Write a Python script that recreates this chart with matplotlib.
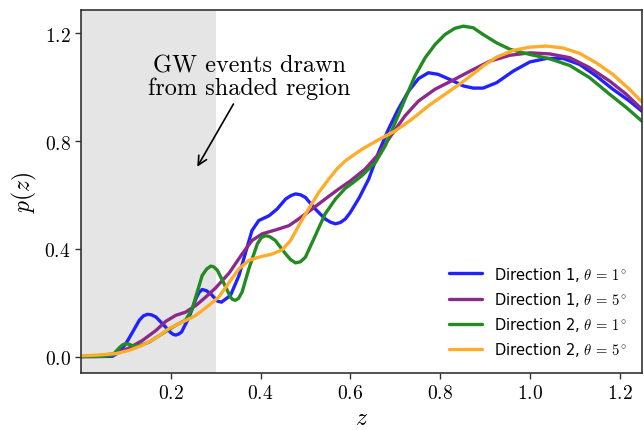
import matplotlib
matplotlib.use("Agg")
import matplotlib.pyplot as plt
from matplotlib.ticker import FormatStrFormatter

plt.rcParams['mathtext.fontset'] = 'cm'

# Direction 1, theta = 1 deg
z_d1t1 = [0.0, 0.033, 0.07, 0.085, 0.1, 0.115, 0.13, 0.139, 0.148, 0.157, 0.167, 0.185,
          0.2, 0.206, 0.211, 0.217, 0.224, 0.241, 0.256, 0.263, 0.27, 0.279, 0.289, 0.304, 0.313, 0.333,
          0.352, 0.367, 0.381, 0.396, 0.419, 0.437, 0.456, 0.468, 0.478, 0.489, 0.5, 0.522,
          0.544, 0.556, 0.567, 0.578, 0.589, 0.6, 0.62, 0.641, 0.663, 0.685, 0.707, 0.73,
          0.752, 0.774, 0.796, 0.826, 0.852, 0.874, 0.896, 0.926, 0.963, 1.0,
          1.037, 1.074, 1.111, 1.148, 1.185, 1.222, 1.25]
p_d1t1 = [0.0, 0.0, 0.001, 0.017, 0.048, 0.091, 0.135, 0.151, 0.157, 0.155, 0.147, 0.116,
          0.089, 0.082, 0.08, 0.083, 0.091, 0.147, 0.215, 0.238, 0.249, 0.245, 0.233, 0.206, 0.202, 0.227,
          0.301, 0.388, 0.468, 0.505, 0.523, 0.548, 0.585, 0.598, 0.604, 0.601, 0.591, 0.548,
          0.511, 0.499, 0.493, 0.498, 0.511, 0.535, 0.59, 0.659, 0.758, 0.844, 0.919, 0.986,
          1.032, 1.054, 1.048, 1.026, 1.005, 0.997, 0.997, 1.017, 1.06, 1.094,
          1.107, 1.107, 1.085, 1.042, 0.993, 0.949, 0.911]

# Direction 1, theta = 5 deg
z_d1t5 = [0.0, 0.033, 0.078, 0.107, 0.137, 0.167, 0.189, 0.211, 0.233, 0.256,
          0.278, 0.3, 0.33, 0.359, 0.381, 0.404, 0.433, 0.463, 0.485, 0.515,
          0.544, 0.574, 0.6, 0.633, 0.663, 0.693, 0.722, 0.752, 0.789, 0.833,
          0.867, 0.911, 0.956, 1.0, 1.044, 1.089, 1.133, 1.178, 1.215, 1.25]
p_d1t5 = [0.0, 0.002, 0.011, 0.032, 0.06, 0.097, 0.131, 0.153, 0.165, 0.19,
          0.221, 0.255, 0.31, 0.381, 0.431, 0.456, 0.47, 0.486, 0.511, 0.548,
          0.585, 0.622, 0.652, 0.696, 0.752, 0.826, 0.894, 0.949, 0.993, 1.03,
          1.06, 1.097, 1.119, 1.128, 1.124, 1.11, 1.073, 1.023, 0.974, 0.918]

# Direction 2, theta = 1 deg
z_d2t1 = [0.0, 0.05, 0.07, 0.085, 0.093, 0.1, 0.107, 0.115, 0.13, 0.152, 0.181, 0.211,
          0.233, 0.248, 0.259, 0.27, 0.28, 0.289, 0.296, 0.304, 0.319, 0.333, 0.338, 0.344, 0.351, 0.359,
          0.374, 0.393, 0.402, 0.411, 0.421, 0.433, 0.456, 0.467, 0.478, 0.489, 0.5, 0.522, 0.544, 0.567,
          0.589, 0.607, 0.626, 0.656, 0.678, 0.7, 0.722, 0.744, 0.767, 0.789,
          0.811, 0.833, 0.852, 0.874, 0.896, 0.926, 0.956, 1.0, 1.044, 1.089,
          1.133, 1.178, 1.215, 1.25]
p_d2t1 = [0.0, 0.001, 0.005, 0.032, 0.044, 0.048, 0.046, 0.04, 0.04, 0.054, 0.085, 0.116,
          0.135, 0.178, 0.24, 0.301, 0.325, 0.336, 0.333, 0.32, 0.27, 0.221, 0.212, 0.209, 0.216, 0.24,
          0.326, 0.419, 0.442, 0.449, 0.445, 0.431, 0.381, 0.36, 0.348, 0.352, 0.369, 0.449, 0.53, 0.585,
          0.625, 0.647, 0.672, 0.721, 0.783, 0.869, 0.956, 1.042, 1.11, 1.159,
          1.196, 1.219, 1.227, 1.221, 1.196, 1.165, 1.141, 1.122, 1.106, 1.081,
          1.036, 0.974, 0.925, 0.874]

# Direction 2, theta = 5 deg
z_d2t5 = [0.0, 0.033, 0.078, 0.107, 0.137, 0.167, 0.196, 0.226, 0.256, 0.285,
          0.307, 0.33, 0.352, 0.374, 0.396, 0.426, 0.448, 0.467, 0.485, 0.507,
          0.53, 0.552, 0.57, 0.589, 0.626, 0.663, 0.7, 0.737, 0.774, 0.811,
          0.848, 0.874, 0.896, 0.926, 0.963, 1.0, 1.037, 1.074, 1.111, 1.148,
          1.185, 1.222, 1.25]
p_d2t5 = [0.003, 0.005, 0.011, 0.023, 0.042, 0.069, 0.104, 0.128, 0.153, 0.19,
          0.221, 0.275, 0.326, 0.357, 0.369, 0.381, 0.396, 0.431, 0.486, 0.548,
          0.61, 0.659, 0.696, 0.727, 0.77, 0.805, 0.838, 0.881, 0.931, 0.974,
          1.017, 1.05, 1.079, 1.112, 1.137, 1.149, 1.153, 1.146, 1.126, 1.091,
          1.048, 0.993, 0.945]

labels = [r'Direction 1, $\theta\,=\,1^\circ$', r'Direction 1, $\theta\,=\,5^\circ$',
          r'Direction 2, $\theta\,=\,1^\circ$', r'Direction 2, $\theta\,=\,5^\circ$']
zs = [z_d1t1, z_d1t5, z_d2t1, z_d2t5]
ps = [p_d1t1, p_d1t5, p_d2t1, p_d2t5]
colors = ['#2222ff', '#8b2a8b', '#228b22', '#ffac2a']

xticks = [0.2, 0.4, 0.6, 0.8, 1.0, 1.2]
yticks = [0.0, 0.4, 0.8, 1.2]

fig = plt.figure(figsize=(6.44, 4.31), dpi=100)
ax = fig.add_axes([81/644, 1-374/431, (642-81)/644, (374-11)/431])

ax.axvspan(0.0, 0.3, color='#e5e5e5', zorder=0, lw=0)
for zz, pp, c, l in zip(zs, ps, colors, labels):
    ax.plot(zz, pp, color=c, lw=2.4, label=l, solid_joinstyle='round',
            solid_capstyle='round')

ax.set_xlim(0.0, 1.25)
ax.set_ylim(-0.061, 1.287)
ax.set_xticks(xticks)
ax.set_yticks(yticks)
ax.xaxis.set_major_formatter(FormatStrFormatter('$%.1f$'))
ax.yaxis.set_major_formatter(FormatStrFormatter('$%.1f$'))
ax.tick_params(labelsize=14, length=4, width=1, color='#333333')
for sp in ax.spines.values():
    sp.set_color('#333333')
    sp.set_linewidth(1.2)

ax.set_xlabel('$z$', fontsize=17, labelpad=2)
ax.set_ylabel('$p(z)$', fontsize=17)

ax.annotate('GW events drawn\nfrom shaded region', xy=(0.256, 0.696), xytext=(0.375, 1.04),
            ha='center', va='center', fontsize=17.5, family='cmr10', linespacing=1.0,
            arrowprops=dict(arrowstyle='->', lw=1.2, color='black', mutation_scale=16))

ax.legend(loc='lower right', frameon=False, handlelength=2.3, borderaxespad=0.6,
          prop={'family': 'DejaVu Sans', 'size': 10.5})

fig.savefig('out.png', dpi=100)
